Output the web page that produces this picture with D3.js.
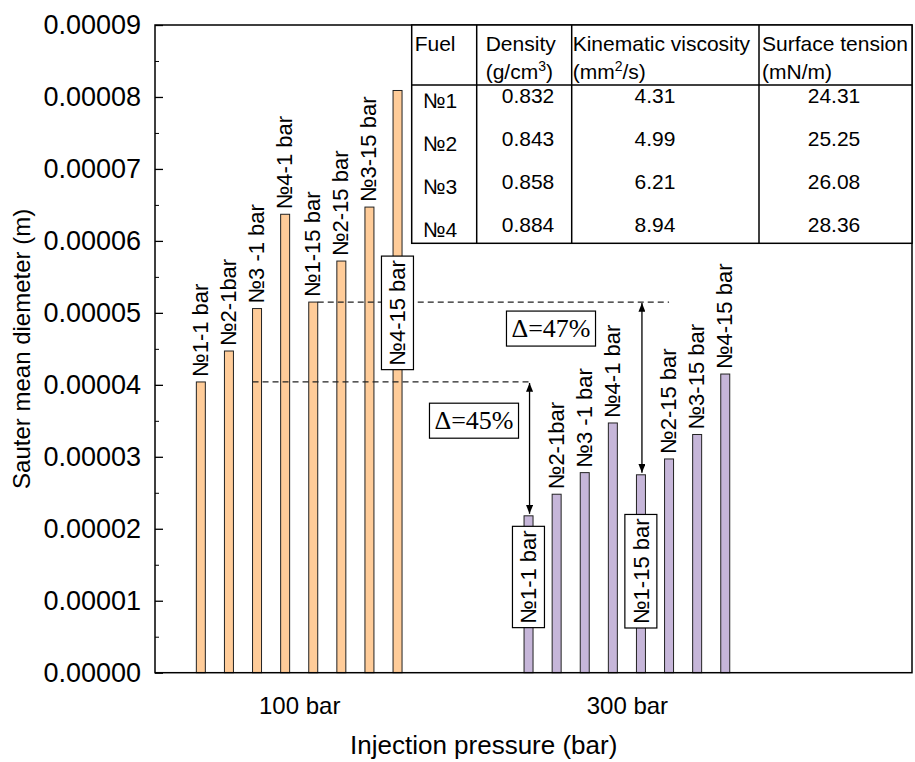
<!DOCTYPE html>
<meta charset="utf-8">
<style>
    body { margin: 0; background: #fff; }
    svg { font-family: "Liberation Sans", Arial, sans-serif; }
    .frame { fill: none; stroke: #000; stroke-width: 1.5px; }
    .bar { stroke: #222; stroke-width: 1px; }
    .dash { fill: none; stroke: #222; stroke-width: 1.3px; stroke-dasharray: 6,4; }
    .arrow { stroke: #000; stroke-width: 1.3px; }
    .box { fill: #fff; stroke: #000; stroke-width: 1.2px; }
    .grid line { stroke: #000; }
    .tbl { stroke: #000; stroke-width: 1.5px; }
</style>
<body>
<script src="https://cdn.jsdelivr.net/npm/d3@7"></script>
<script>

    // data
    var pressures = ["100 bar", "300 bar"];
    var runLabels = ["№1-1 bar", "№2-1bar", "№3 -1 bar", "№4-1 bar",
                     "№1-15 bar", "№2-15 bar", "№3-15 bar", "№4-15 bar"];
    var smd100 = [4.04e-5, 4.47e-5, 5.06e-5, 6.37e-5, 5.15e-5, 5.72e-5, 6.47e-5, 8.09e-5];
    var smd300 = [2.18e-5, 2.48e-5, 2.78e-5, 3.47e-5, 2.75e-5, 2.97e-5, 3.31e-5, 4.15e-5];
    var yTicks = d3.range(10).map(function(i) { return i * 1e-5; });

    var fuels = ["№1", "№2", "№3", "№4"];
    var density = ["0.832", "0.843", "0.858", "0.884"];
    var viscosity = ["4.31", "4.99", "6.21", "8.94"];
    var tension = ["24.31", "25.25", "26.08", "28.36"];

    var width = 915, height = 762;
    var pLeft = 155, pRight = 912, pTop = 25, pBottom = 672.7;

    var svg = d3.select("body").append("svg")
            .attr("width", width)
            .attr("height", height);

    var y = d3.scaleLinear().domain([0, 9e-5]).range([pBottom, pTop]);
    var x = d3.scaleLinear().domain([0.56, 2.87]).range([pLeft, pRight]);
    var inner = d3.scaleBand().domain(d3.range(8))
            .range([-102.85, 102.85]).paddingInner(0.68).paddingOuter(0);

    var groups = [smd100, smd300];
    var colors = ["#FFCC99", "#C6B6D9"];

    function cx(g, i) { return x(g + 1) + inner(i) + inner.bandwidth() / 2; }

    // bars
    groups.forEach(function(vals, g) {
        svg.append("g").selectAll("rect")
                .data(vals)
                .enter().append("rect")
                .attr("class", "bar")
                .attr("fill", colors[g])
                .attr("x", function(d, i) { return x(g + 1) + inner(i); })
                .attr("width", inner.bandwidth())
                .attr("y", function(d) { return y(d); })
                .attr("height", function(d) { return pBottom - y(d); });
    });

    // dashed reference lines
    svg.append("line").attr("class", "dash")
            .attr("x1", x(1) + inner(2)).attr("x2", cx(1, 0))
            .attr("y1", y(smd100[0])).attr("y2", y(smd100[0]));
    svg.append("line").attr("class", "dash")
            .attr("x1", x(1) + inner(4) + inner.bandwidth()).attr("x2", cx(1, 5))
            .attr("y1", y(smd100[4])).attr("y2", y(smd100[4]));

    // double arrows
    svg.append("defs").append("marker")
            .attr("id", "ah")
            .attr("viewBox", "0 0 10 8")
            .attr("refX", 10).attr("refY", 4)
            .attr("markerWidth", 9).attr("markerHeight", 7)
            .attr("markerUnits", "userSpaceOnUse")
            .attr("orient", "auto-start-reverse")
            .append("path").attr("d", "M0,0L10,4L0,8Z").attr("fill", "#000");

    [[0, 0], [4, 4]].forEach(function(p) {
        svg.append("line").attr("class", "arrow")
                .attr("x1", cx(1, p[1]) + 1).attr("x2", cx(1, p[1]) + 1)
                .attr("y1", y(smd100[p[0]]) + 1).attr("y2", y(smd300[p[1]]) - 2)
                .attr("marker-start", "url(#ah)")
                .attr("marker-end", "url(#ah)");
    });

    // frame
    svg.append("rect").attr("class", "frame")
            .attr("x", pLeft).attr("y", pTop)
            .attr("width", pRight - pLeft).attr("height", pBottom - pTop);

    // y axis, ticks inward
    svg.append("g").attr("class", "grid")
            .attr("transform", "translate(" + pLeft + ",0)")
            .call(d3.axisLeft(y).tickValues(yTicks.map(function(t) { return t + 5e-6; }).slice(0, 9))
                    .tickSize(-4).tickFormat(""))
            .call(function(g) { g.select(".domain").remove(); });

    svg.append("g").attr("class", "grid")
            .attr("transform", "translate(" + pLeft + ",0)")
            .call(d3.axisLeft(y).tickValues(yTicks).tickSize(-8).tickPadding(14)
                    .tickFormat(function(d) { return d.toFixed(5); }))
            .call(function(g) {
                g.select(".domain").remove();
                g.selectAll("line").attr("stroke-width", 1.3);
                g.selectAll("text").attr("font-size", 27).attr("fill", "#000")
                        .attr("font-family", "Liberation Sans, Arial, sans-serif");
            });

    svg.append("g")
            .attr("transform", "translate(0," + pBottom + ")")
            .call(d3.axisBottom(x).tickValues([1, 2]).tickSize(0).tickPadding(24)
                    .tickFormat(function(d) { return pressures[d - 1]; }))
            .call(function(g) {
                g.select(".domain").remove();
                g.selectAll("text").attr("font-size", 24).attr("fill", "#000")
                        .attr("font-family", "Liberation Sans, Arial, sans-serif");
            });

    // axis titles
    svg.append("text")
            .attr("x", 350).attr("y", 754)
            .attr("font-size", 26)
            .text("Injection pressure (bar)");
    svg.append("text")
            .attr("transform", "translate(22," + (pTop + pBottom) / 2 + ")rotate(-90)")
            .attr("text-anchor", "middle").attr("dy", "0.35em").attr("font-size", 24)
            .text("Sauter mean diemeter (m)");

    // bar labels (some are boxed and placed lower)
    var boxed = { "0-7": 5.0e-5, "1-0": 1.33e-5, "1-4": 1.41e-5 };

    groups.forEach(function(vals, g) {
        vals.forEach(function(v, i) {
            var key = g + "-" + i;
            if (boxed[key] !== undefined) {
                var gg = svg.append("g")
                        .attr("transform", "translate(" + cx(g, i) + "," + y(boxed[key]) + ")rotate(-90)");
                var t = gg.append("text")
                        .attr("text-anchor", "middle").attr("dy", "0.36em")
                        .attr("font-size", 22)
                        .text(runLabels[i]);
                var b = t.node().getBBox();
                gg.insert("rect", "text").attr("class", "box")
                        .attr("x", b.x - 4).attr("y", b.y - 4)
                        .attr("width", b.width + 8).attr("height", b.height + 7);
            } else {
                svg.append("text")
                        .attr("transform", "translate(" + (cx(g, i) - 1) + "," + (y(v) - 5) + ")rotate(-90)")
                        .attr("dy", "0.36em").attr("font-size", 22)
                        .text(runLabels[i]);
            }
        });
    });

    // delta boxes
    [["Δ=45%", 474, 3.51e-5], ["Δ=47%", 551, 4.79e-5]].forEach(function(a) {
        var gg = svg.append("g").attr("transform", "translate(" + a[1] + "," + y(a[2]) + ")");
        var t = gg.append("text")
                .attr("text-anchor", "middle").attr("dy", "0.35em")
                .attr("font-family", "Liberation Serif, Times New Roman, serif")
                .attr("font-size", 26)
                .text(a[0]);
        var b = t.node().getBBox();
        gg.insert("rect", "text").attr("class", "box")
                .attr("x", b.x - 5).attr("y", b.y - 3)
                .attr("width", b.width + 10).attr("height", b.height + 6);
    });

    // property table
    var colX = [411.7, 476.7, 571.7, 759, pRight];
    var tblTop = pTop, tblHead = 85, tblBottom = 243.3;
    var tbl = svg.append("g");
    tbl.append("rect").attr("x", colX[0]).attr("y", tblTop)
            .attr("width", colX[4] - colX[0]).attr("height", tblBottom - tblTop)
            .attr("fill", "#fff").attr("class", "tbl");
    colX.slice(1, 4).forEach(function(cxp) {
        tbl.append("line").attr("class", "tbl")
                .attr("x1", cxp).attr("x2", cxp).attr("y1", tblTop).attr("y2", tblBottom);
    });
    tbl.append("line").attr("class", "tbl").attr("stroke-width", 2.2)
            .attr("x1", colX[0]).attr("x2", colX[4]).attr("y1", tblHead).attr("y2", tblHead);

    var heads = [["Fuel", null], ["Density", ["(g/cm", "3", ")"]],
                 ["Kinematic viscosity", ["(mm", "2", "/s)"]], ["Surface tension", ["(mN/m)"]]];
    heads.forEach(function(h, c) {
        var hx = colX[c] + (c === 2 ? 1 : 3) + (c === 1 ? 6 : 0);
        tbl.append("text").attr("x", hx).attr("y", 51).attr("font-size", 21).text(h[0]);
        if (h[1]) {
            var t = tbl.append("text").attr("x", hx).attr("y", 79).attr("font-size", 21);
            t.append("tspan").text(h[1][0]);
            if (h[1].length > 1) {
                t.append("tspan").attr("font-size", 14).attr("dy", -8).text(h[1][1]);
                t.append("tspan").attr("dy", 8).text(h[1][2]);
            }
        }
    });

    var colTextX = [440, 528, 655, 834];
    [fuels, density, viscosity, tension].forEach(function(col, c) {
        tbl.selectAll(null).data(col).enter().append("text")
                .attr("x", colTextX[c])
                .attr("y", function(d, r) { return 96 + r * 43 + (c === 0 ? 5 : 0); })
                .attr("dy", "0.35em")
                .attr("text-anchor", "middle")
                .attr("font-size", 21)
                .text(function(d) { return d; });
    });
</script>
</body>
